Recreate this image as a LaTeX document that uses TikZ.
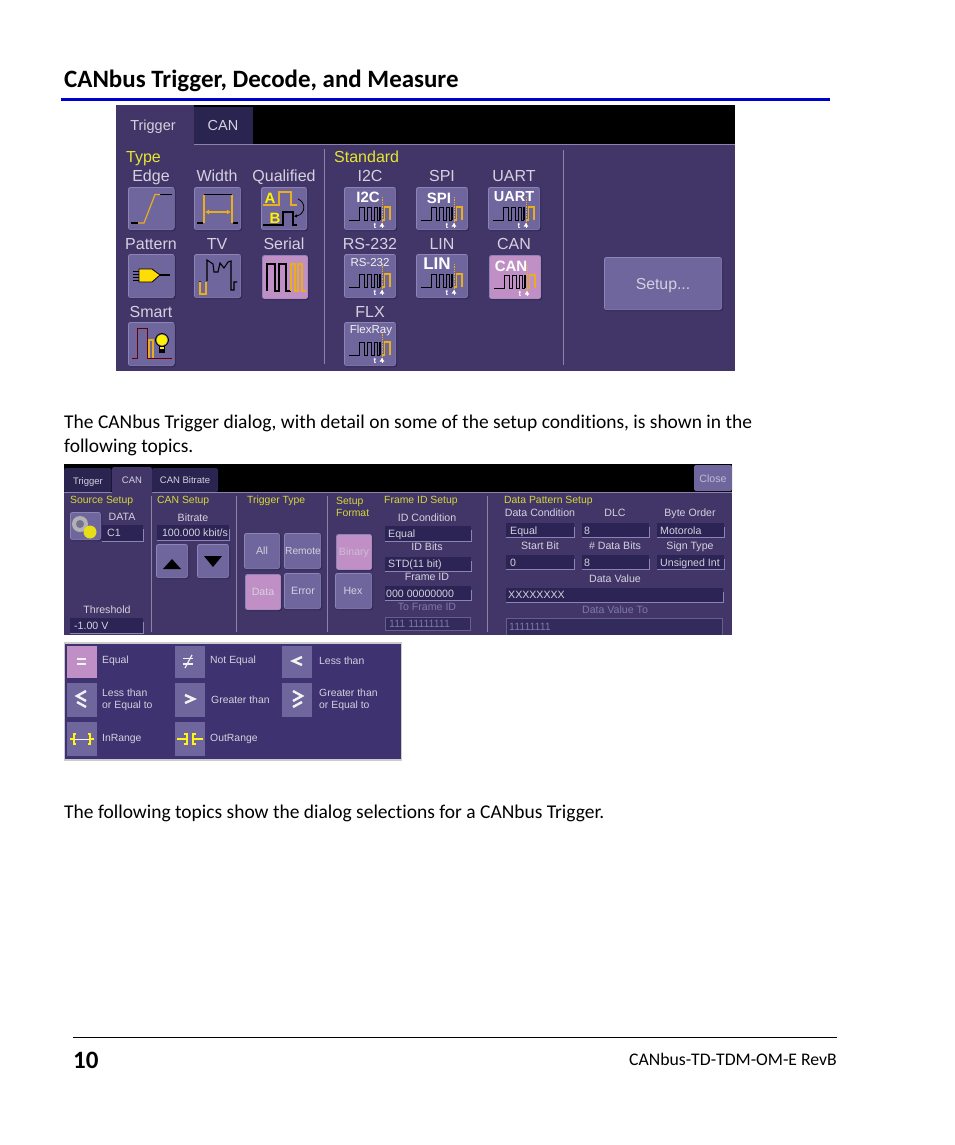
\documentclass[tikz,border=0pt]{standalone}
\usepackage{fontspec}
\setmainfont[Ligatures=NoCommon]{Carlito}
\newfontfamily\uifont{Liberation Sans}
\usetikzlibrary{arrows.meta}
\definecolor{panel}{HTML}{423669}
\definecolor{panelb}{HTML}{3F3270}
\definecolor{darktab}{HTML}{2A2450}
\definecolor{field}{HTML}{2B2455}
\definecolor{btnface}{HTML}{6F669E}
\definecolor{btnhi}{HTML}{8C84B5}
\definecolor{btnlo}{HTML}{2E2650}
\definecolor{pink}{HTML}{C08FC5}
\definecolor{uitext}{HTML}{D4D2DE}
\definecolor{uidim}{HTML}{7F78A5}
\definecolor{uiyellow}{HTML}{E6E62E}
\definecolor{wave}{HTML}{E8AE1E}
\definecolor{rule}{HTML}{0000CC}
\definecolor{sep}{HTML}{8B84A8}
\tikzset{
  doc/.style={font=\fontsize{19.48}{23}\selectfont,anchor=base west,inner sep=0pt,text=black},
  big/.style={font=\fontsize{16}{18}\uifont,text=uitext,inner sep=0pt,text height=11.5pt,text depth=0pt},
  bigy/.style={font=\fontsize{16}{18}\uifont,text=uiyellow,inner sep=0pt,anchor=west,text height=11.5pt,text depth=0pt},
  small/.style={font=\fontsize{10.6}{12}\uifont,text=uitext,inner sep=0pt,align=center,text height=7.4pt,text depth=0pt},
  smally/.style={font=\fontsize{10.4}{12}\uifont,text=uiyellow!85!gray,inner sep=0pt,anchor=west,align=left},
  dim/.style={font=\fontsize{10.6}{12}\uifont,text=uidim,inner sep=0pt,text height=7.4pt,text depth=0pt},
  fieldtext/.style={font=\fontsize{10.6}{12}\uifont,text=uitext,inner sep=0pt,anchor=west,text height=7.4pt,text depth=0pt},
  dimfield/.style={font=\fontsize{10.6}{12}\uifont,text=uidim,inner sep=0pt,anchor=west,text height=7.4pt,text depth=0pt},
  wv/.style={line width=0.95pt,black,line join=miter},
  ow/.style={line width=1.1pt,wave},
  sym/.style={white!90!gray,line width=2.4pt,line join=miter},
  rng/.style={yellow!90!white,line width=1.3pt},
  opt/.style={font=\fontsize{10.4}{12.5}\uifont,text=uitext,inner sep=0pt,anchor=west,align=left},
  iconbold/.style={inner sep=0pt,text=white,font=\fontsize{15}{15}\uifont\bfseries},
  iconthin/.style={inner sep=0pt,text=white!90!gray,font=\fontsize{11.5}{12}\uifont},
}
% button: x0 y0 x1 y1 face
\newcommand{\btn}[5]{%
  \fill[btnlo,rounded corners=2.5pt] (#1+0.5,#2+0.5) rectangle (#3+1,#4+1);
  \fill[btnhi,rounded corners=2.5pt] (#1,#2) rectangle (#3,#4);
  \fill[#5,rounded corners=2pt] (#1+1,#2+1) rectangle (#3-0.3,#4-0.3);
}
% entry field
\newcommand{\fld}[5]{%
  \fill[field] (#1,#2) rectangle (#3,#4);
  \draw[#5,line width=0.8pt] (#1,#4+0.4) -- (#3+0.4,#4+0.4) -- (#3+0.4,#2+4);
}
\newcommand{\waveicon}[2]{%
  \begin{scope}[shift={(#1,#2)}]
    \draw[wv] (5,33)--(15,33)--(15,20)--(20,20)--(20,33)--(23,33)--(23,20)--(27,20)--(27,33)--(30,33)--(30,20)--(33,20)--(33,33)--(35,33)--(35,20)--(36.5,20)--(36.5,33);
    \draw[ow] (37.5,33)--(40.5,33)--(40.5,20)--(46,20)--(46,33);
    \draw[wave,line width=0.7pt,densely dotted] (38,10)--(38,38);
    \draw[white,-{Latex[length=4pt,width=5pt]},line width=1pt] (38,41)--(38,35.5);
    \node[text=white,inner sep=0pt,font=\fontsize{8}{8}\uifont\bfseries] at (31,38.5) {t};
  \end{scope}}
\begin{document}
\begin{tikzpicture}[x=1pt,y=-1pt]
\useasboundingbox (0,0) rectangle (954,1145);
\fill[white] (0,0) rectangle (954,1145);

% page furniture
\node[doc,font=\fontsize{24.95}{28}\selectfont\bfseries] (title) at (64,87.3) {CANbus Trigger, Decode, and Measure};
\draw[rule,line width=3pt] (61,99.5) -- (830,99.5);
\node[doc] (p1a) at (64,428) {The CANbus Trigger dialog, with detail on some of the setup conditions, is shown in the};
\node[doc] (p1b) at (64,452) {following topics.};
\node[doc] (p2) at (64,818) {The following topics show the dialog selections for a CANbus Trigger.};
\draw[black,line width=0.8pt] (73,1037.5) -- (837,1037.5);
\node[doc,font=\fontsize{25}{28}\selectfont\bfseries] (pg) at (73,1068) {10};
\node[doc,anchor=base east,font=\fontsize{17.7}{20}\selectfont] (ref) at (837,1065) {CANbus-TD-TDM-OM-E RevB};

% ---------- first dialog ----------
\fill[panel] (116,105) rectangle (735,371);
\fill[black] (194,105) rectangle (735,144);
\fill[darktab] (194,107) rectangle (253,144);
\draw[sep,line width=1pt] (194,144.5) -- (735,144.5);
\draw[sep,line width=1pt] (324,149) -- (324,364);
\draw[sep,line width=1pt] (563,150) -- (563,365);
\node[big,font=\fontsize{14.5}{16}\uifont] (t1) at (153,124.8) {Trigger};
\node[big,font=\fontsize{14.5}{16}\uifont] (t2) at (223,125) {CAN};
\node[bigy] (type) at (126,156.5) {Type};
\node[bigy] (std) at (334,156.5) {Standard};
\foreach \n/\x/\y/\s in {a/151/176/Edge,b/217/176/Width,c/284/176/Qualified,d/370/176/I2C,e/442/176/SPI,f/514/176/UART,g/151/244/Pattern,h/217/244/TV,i/284/244/Serial,j/370/244/RS-232,k/442/244/LIN,l/514/244/CAN,m/151/312/Smart,n/370/312/FLX}
  \node[big] (lab\n) at (\x,\y) {\s};

\btn{128}{187}{174.5}{230}{btnface}
\btn{194}{187}{241}{230}{btnface}
\btn{261}{187}{307}{230}{btnface}
\btn{128}{254}{174.5}{298}{btnface}
\btn{194}{254}{241}{298}{btnface}
\btn{262}{255}{308}{299}{pink}
\btn{128}{322}{174.5}{366}{btnface}
\btn{344}{187}{396}{230}{btnface}
\btn{416}{187}{468}{230}{btnface}
\btn{488}{187}{540}{230}{btnface}
\btn{344}{254}{396}{298}{btnface}
\btn{416}{254}{468}{298}{btnface}
\btn{489}{255}{541}{299}{pink}
\btn{344}{322}{396}{366}{btnface}
\btn{604}{257}{722}{310}{btnface}
\node[big,font=\fontsize{15.8}{17}\uifont] (setup) at (663,284) {Setup...};

% edge icon
\draw[black,line width=1.1pt] (130.5,223)--(138,223) (160,194.5)--(172,194.5);
\draw[wave,line width=1.2pt] (138,223)--(144,223)--(155,194.5)--(160,194.5);
% width icon
\draw[black,line width=1.1pt] (197,223)--(203,223) (204,194.5)--(232,194.5) (233,223)--(238,223);
\draw[wave,line width=1.1pt] (204,223)--(204,194.5) (232,194.5)--(232,223);
\draw[wave,line width=1.1pt,{Latex[length=4pt,width=5pt]}-{Latex[length=4pt,width=5pt]}] (205,212)--(231,212);
% qualified icon
\node[inner sep=0pt,text=yellow,font=\fontsize{15}{15}\uifont\bfseries] (qa) at (270,198) {A};
\node[inner sep=0pt,text=yellow,font=\fontsize{15}{15}\uifont\bfseries] (qb) at (275,218) {B};
\draw[wave,line width=1.1pt] (263,205)--(279,205)--(279,192)--(291,192)--(291,205)--(297,205);
\draw[black,line width=1.1pt] (263,225)--(283,225)--(283,212)--(293,212)--(293,225)--(297,225);
\draw[black,line width=0.8pt,-{Latex[length=3pt,width=3.5pt]}] (298,199) .. controls (306,202) and (306,214) .. (294,216.5);
% pattern icon
\draw[black,line width=1.1pt] (160,275)--(170,275);
\fill[yellow!80!orange,draw=black,line width=0.8pt] (139,269)--(152,269)--(160,275)--(152,282)--(139,282)--cycle;
\draw[black,line width=0.8pt] (133,271)--(139,271) (133,274)--(139,274) (133,277)--(139,277) (133,280)--(139,280);
% tv icon
\draw[black,line width=1.1pt] (200,290)--(200,281) (207,281)--(207,260)--(213,264)--(214,272)--(218,272)--(220,263)--(224,268)--(228,262)--(231,261)--(231,290)--(234,290)--(234,282)--(237,282);
\draw[wave,line width=1.4pt] (200,282)--(200,294)--(206,294)--(206,282);
% serial icon (selected)
\draw[black,line width=1.1pt] (267,291)--(267,264)--(275,264)--(275,291)--(279,291)--(279,264)--(286,264)--(286,291)--(291,291);
\draw[wave,line width=1.2pt] (291,291)--(291,264)--(295,264)--(295,291)--(298,291)--(298,264)--(302,264)--(302,291)--(306,291);
% smart icon
\draw[black!60!red,line width=1pt] (132,358)--(137,358)--(137,328)--(147,328)--(147,358)--(172,358);
\draw[wave,line width=1.2pt] (149,358)--(149,340)--(153,340)--(153,358);
\fill[yellow] (162,340) circle (5.5);
\draw[black,line width=0.8pt] (162,340) circle (6.5);
\fill[black] (159,346) rectangle (165,353);
\fill[yellow] (160,347) rectangle (164,349);

% serial standards
\waveicon{344}{187}
\waveicon{416}{187}
\waveicon{488}{187}
\waveicon{344}{254}
\waveicon{416}{254}
\waveicon{489}{255}
\waveicon{344}{322}
\node[iconbold] (i1) at (368,197) {I2C};
\node[iconbold] (i2) at (439,198) {SPI};
\node[iconbold,font=\fontsize{14.5}{15}\uifont\bfseries] (i3) at (514,197) {UART};
\node[iconthin] (i4) at (370,263) {RS-232};
\node[iconbold,font=\fontsize{17}{17}\uifont\bfseries] (i5) at (437,264) {LIN};
\node[iconbold] (i6) at (511,266) {CAN};
\node[iconthin] (i7) at (371,331) {FlexRay};

% ---------- second dialog ----------
\fill[panel] (64,464) rectangle (732,635);
\fill[black] (64,464) rectangle (732,491.5);
\fill[darktab,rounded corners=1.5pt] (64,468) rectangle (111.5,492);
\fill[panel,rounded corners=1.5pt] (112,467) rectangle (152,493);
\fill[darktab,rounded corners=1.5pt] (152,468) rectangle (218,492);
\draw[sep,line width=0.8pt] (64,492) -- (112,492) (152,492) -- (732,492);
\fill[btnface,rounded corners=1.5pt] (694,465) rectangle (732,491);
\node[small,font=\fontsize{9.5}{11}\uifont] (tb1) at (88,480.5) {Trigger};
\node[small,font=\fontsize{9.5}{11}\uifont] (tb2) at (132,480) {CAN};
\node[small,font=\fontsize{9.5}{11}\uifont] (tb3) at (185,480) {CAN Bitrate};
\node[small,text=uitext!80!btnface] (close) at (713,478.5) {Close};
\foreach \x in {151,236,327,487}
  \draw[sep,line width=0.8pt] (\x,496) -- (\x,632);
\node[smally] (s1) at (70,500.5) {Source Setup};
\node[smally] (s2) at (157,500.5) {CAN Setup};
\node[smally] (s3) at (247,500.5) {Trigger Type};
\node[smally] (s4) at (336,506.5) {Setup\\Format};
\node[smally] (s5) at (384,500.5) {Frame ID Setup};
\node[smally] (s6) at (504,500.5) {Data Pattern Setup};

% source setup
\btn{70}{512}{101}{540}{btnface}
\fill[gray!60] (80,524) circle (8);
\fill[btnface!60!gray] (80,524) circle (4);
\fill[yellow!90!black] (90,532) circle (6.5);
\node[small] (sdata) at (122,517) {DATA};
\fld{102}{525}{143}{541}{btnhi}
\node[fieldtext] (sc1) at (107,533) {C1};
\node[small] (sth) at (107,610) {Threshold};
\fld{70}{618}{143}{633}{btnhi}
\node[fieldtext] (sthv) at (74,626) {-1.00 V};
% bitrate
\node[small] (brl) at (193,518) {Bitrate};
\fld{157}{525}{229}{540}{btnhi}
\node[small] (brv) at (195,533) {100.000 kbit/s};
\btn{156}{544}{188}{578}{btnface}
\btn{197}{544}{229}{578}{btnface}
\fill[black] (163,569)--(181,569)--(172,559)--cycle;
\fill[black] (204,556)--(222,556)--(213,567)--cycle;
% trigger type
\btn{244}{533}{280}{569}{btnface}
\btn{284}{533}{321}{569}{btnface}
\btn{245}{574}{281}{610}{pink}
\btn{284}{573}{321}{609}{btnface}
\node[small] (bt1) at (262,551) {All};
\node[small,font=\fontsize{10.2}{12}\uifont] (bt2) at (303,551) {Remote};
\node[small] (bt3) at (263,592) {Data};
\node[small] (bt4) at (303,591) {Error};
\btn{336}{534}{372}{570}{pink}
\btn{335}{573}{372}{609}{btnface}
\node[small,text=uitext!70!pink] (bf1) at (354,552) {Binary};
\node[small] (bf2) at (353,591) {Hex};
% frame id
\node[small] (fl1) at (427,517.5) {ID Condition};
\fld{385}{526}{471}{541}{btnhi}
\node[fieldtext] (ff1) at (388,534) {Equal};
\node[small] (fl2) at (427,547) {ID Bits};
\fld{385}{557}{471}{571}{btnhi}
\node[fieldtext] (ff2) at (388,564) {STD(11 bit)};
\node[small] (fl3) at (427,577) {Frame ID};
\fld{385}{586}{471}{600}{btnhi}
\node[fieldtext] (ff3) at (386,593.5) {000 00000000};
\node[dim] (fl4) at (427,607) {To Frame ID};
\fill[panel!80!white] (385,617) rectangle (471,631);
\fill[field!60!panel] (386,618) rectangle (470,630);
\node[dimfield] (ff4) at (389,624) {111 11111111};
% data pattern
\node[small] (dl1) at (540,513) {Data Condition};
\node[small] (dl2) at (615,513) {DLC};
\node[small] (dl3) at (690,513) {Byte Order};
\fld{506}{523}{574}{537}{btnhi}
\fld{582}{523}{649}{537}{btnhi}
\fld{657}{523}{724}{537}{btnhi}
\node[fieldtext] (df1) at (510,530.5) {Equal};
\node[fieldtext] (df2) at (584,530.5) {8};
\node[fieldtext] (df3) at (660,530.5) {Motorola};
\node[small] (dl4) at (540,546) {Start Bit};
\node[small] (dl5) at (615,546) {\# Data Bits};
\node[small] (dl6) at (690,546) {Sign Type};
\fld{506}{555}{574}{569}{btnhi}
\fld{582}{555}{649}{569}{btnhi}
\fld{657}{555}{724}{569}{btnhi}
\node[fieldtext] (df4) at (510,562.5) {0};
\node[fieldtext] (df5) at (584,562.5) {8};
\node[fieldtext] (df6) at (660,562.5) {Unsigned Int};
\node[small] (dl7) at (615,579) {Data Value};
\fld{506}{588}{723}{602}{btnhi}
\node[fieldtext] (df7) at (508,595) {XXXXXXXX};
\node[dim] (dl8) at (615,610) {Data Value To};
\fill[panel!80!white] (506,618) rectangle (723,635);
\fill[field!60!panel] (507,619) rectangle (722,635);
\node[dimfield] (df8) at (509,627) {11111111};

% ---------- third dialog ----------
\fill[black!20] (64,642) rectangle (402,761);
\fill[panelb] (65,644) rectangle (400.5,759);
\fill[pink] (67,646) rectangle (97,678);
\fill[btnface] (175,646) rectangle (205,678);
\fill[btnface] (282,646) rectangle (312,678);
\fill[btnface] (67,683) rectangle (97,717);
\fill[btnface] (175,683) rectangle (205,717);
\fill[btnface] (282,683) rectangle (312,717);
\fill[btnface] (67,722) rectangle (97,756);
\fill[btnface] (175,722) rectangle (205,756);
\draw[sym,line width=1.8pt] (77,659)--(86,659) (77,664)--(86,664);
\draw[sym,line width=1.8pt] (183,658.5)--(193,658.5) (183,664)--(193,664);
\draw[sym,line width=1.2pt] (185,668)--(192,655);
\draw[sym] (302,657)--(293,661)--(302,665);
\draw[sym] (86,691)--(77,696)--(86,701) (77,702)--(86,707);
\draw[sym] (185,695)--(194,699)--(185,703);
\draw[sym] (293,691)--(302,696)--(293,701) (302,702)--(293,707);
\draw[rng] (70,739)--(74,739) (76,734)--(74,734)--(74,744)--(76,744) (88,734)--(90,734)--(90,744)--(88,744) (90,739)--(94,739);
\draw[white!90!gray,line width=1pt] (75,739)--(89,739);
\draw[rng] (177,739)--(187,739) (184,734)--(187,734)--(187,744)--(184,744) (193,739)--(203,739) (196,734)--(193,734)--(193,744)--(196,744);
\node[opt] (o1) at (102,661) {Equal};
\node[opt] (o2) at (210,661) {Not Equal};
\node[opt] (o3) at (319,661) {Less than};
\node[opt] (o4) at (102,700) {Less than\\or Equal to};
\node[opt] (o5) at (211,700) {Greater than};
\node[opt] (o6) at (319,700) {Greater than\\or Equal to};
\node[opt] (o7) at (102,739) {InRange};
\node[opt] (o8) at (210,739) {OutRange};
\end{tikzpicture}
\end{document}
